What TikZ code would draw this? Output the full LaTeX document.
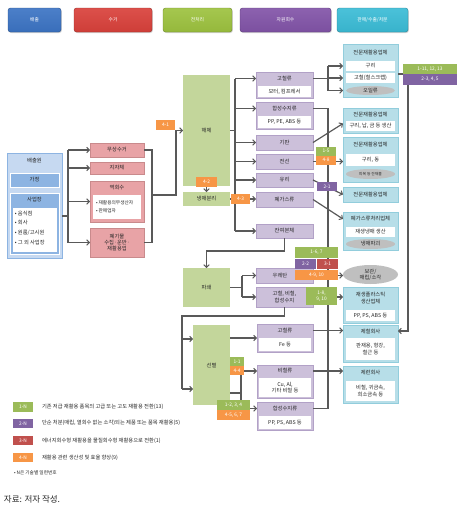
\documentclass[tikz,border=0pt]{standalone}
\usepackage{fontspec}
\setmainfont{Noto Sans CJK KR}
\usetikzlibrary{arrows.meta,shapes.geometric,shadows}
\definecolor{lnc}{HTML}{595959}
\definecolor{srcO}{HTML}{C6D9F1}
\definecolor{srcB}{HTML}{8DB4E2}
\definecolor{redF}{HTML}{E8A3A6}
\definecolor{redD}{HTML}{C98A8C}
\definecolor{grnF}{HTML}{C3D69B}
\definecolor{purF}{HTML}{CCC0DA}
\definecolor{purD}{HTML}{B2A1C7}
\definecolor{cyF}{HTML}{B7DEE8}
\definecolor{cyD}{HTML}{92CDDC}
\definecolor{grE}{HTML}{BFBFBF}
\definecolor{tG}{HTML}{9BBB59}
\definecolor{tP}{HTML}{8064A2}
\definecolor{tR}{HTML}{C0504D}
\definecolor{tO}{HTML}{F79646}
\definecolor{bB}{HTML}{3C74C4}
\definecolor{bR}{HTML}{D9413B}
\definecolor{bG}{HTML}{9DC23F}
\definecolor{bP}{HTML}{8254A8}
\definecolor{bC}{HTML}{3BBCD6}
\newcommand\bx[7]{\node[#2, minimum width={(#5-#3)*1pt}, minimum height={(#6-#4)*1pt}] (#1) at ({(#3+#5)/2},{(#4+#6)/2}) {#7};}
\tikzset{
 base/.style={inner sep=0pt, outer sep=0pt, align=center, font=\fontsize{5.3}{6.3}\selectfont, text=black!85},
 btn/.style={base, rounded corners=2.5pt, text=white, font=\fontsize{4.8}{5.5}\selectfont, line width=0.4pt,
   drop shadow={opacity=0.35, shadow xshift=0.8pt, shadow yshift=-1pt}},
 btnB/.style={btn, top color=bB!92!white, bottom color=bB!95!black, draw=bB!70!black},
 btnR/.style={btn, top color=bR!92!white, bottom color=bR!95!black, draw=bR!70!black},
 btnG/.style={btn, top color=bG!92!white, bottom color=bG!95!black, draw=bG!70!black},
 btnP/.style={btn, top color=bP!92!white, bottom color=bP!95!black, draw=bP!70!black},
 btnC/.style={btn, top color=bC!92!white, bottom color=bC!95!black, draw=bC!70!black},
 srco/.style={base, fill=srcO, draw=srcB, line width=0.6pt},
 srcb/.style={base, fill=srcB, draw=white, line width=0.5pt},
 wsub/.style={base, fill=white},
 redb/.style={base, fill=redF, draw=redD, line width=0.5pt},
 grnb/.style={base, fill=grnF},
 purb/.style={base, fill=purF, draw=purD, line width=0.4pt},
 cyb/.style={base, fill=cyF, draw=cyD, line width=0.5pt},
 hdr/.style={base},
 gell/.style={base, ellipse, fill=grE},
 tag/.style={base, text=white, font=\fontsize{4.8}{5.6}\selectfont},
 tagG/.style={tag, fill=tG}, tagP/.style={tag, fill=tP}, tagR/.style={tag, fill=tR}, tagO/.style={tag, fill=tO},
 ln/.style={draw=lnc, line width=1.2pt},
 arr/.style={ln, -{Straight Barb[length=2.6pt,width=5.5pt,line width=1pt]}},
}
\begin{document}
\begin{tikzpicture}[x=1pt,y=-1pt]
\useasboundingbox (0,0) rectangle (468,512);
% top legend buttons
\bx{b1}{btnB}{8}{8}{61}{32}{배출}
\bx{b2}{btnR}{74}{8}{152}{32}{수거}
\bx{b3}{btnG}{163}{8}{232}{32}{전처리}
\bx{b4}{btnP}{240}{8}{331}{32}{자원회수}
\bx{b5}{btnC}{337}{8}{408}{32}{판매/수출/처분}
% source
\bx{src}{srco}{7}{153}{62}{258}{}
\node[base] (srct) at (34.5,160) {배출원};
\bx{home}{srcb}{10}{173}{59}{187}{가정}
\bx{biz}{srcb}{10}{193}{59}{254}{}
\node[base] (bizt) at (34.5,200) {사업장};
\bx{bizl}{wsub}{12.5}{208}{56.5}{251.5}{}
\node[base, align=left, anchor=north west, font=\fontsize{5.3}{9.6}\selectfont] (bizlt) at (15,211) {• 음식점\\• 회사\\• 원룸/고시원\\• 그 외 사업장};
% collection
\bx{c1}{redb}{90}{143}{144}{157}{무상수거}
\bx{c2}{redb}{90}{162}{144}{174}{지자체}
\bx{c3}{redb}{90}{181}{144}{222}{}
\node[base] (c3t) at (117,187.5) {역회수};
\bx{c3l}{wsub}{93}{195}{141}{219}{}
\node[base, align=left, anchor=west, font=\fontsize{4.7}{8}\selectfont] (c3lt) at (96,207) {• 재활용의무생산자\\• 판매업자};
\bx{c4}{redb}{90}{228}{144}{257}{폐기물\\수집·운반·\\재활용업}
% green boxes
\bx{g1}{grnb}{183}{75}{230}{186}{해체}
\bx{g2}{grnb}{183}{192}{230}{206}{냉매분리}
\bx{g3}{grnb}{183}{268}{230}{307}{파쇄}
\bx{g4}{grnb}{193}{325}{230}{405}{선별}
% purple boxes
\bx{p1}{purb}{256}{72}{313}{98}{}
\bx{p1h}{hdr}{256}{72}{313}{85}{고철류}
\bx{p1s}{wsub}{258}{86}{311}{97}{모터, 컴프레서}
\bx{p2}{purb}{256}{102}{313}{129}{}
\bx{p2h}{hdr}{256}{102}{313}{115}{합성수지류}
\bx{p2s}{wsub}{258}{116}{311}{128}{PP, PE, ABS 등}
\bx{p3}{purb}{256}{135}{313}{150}{기판}
\bx{p4}{purb}{256}{154}{313}{169}{전선}
\bx{p5}{purb}{256}{173}{313}{187}{유리}
\bx{p6}{purb}{256}{192}{313}{207}{폐가스류}
\bx{p7}{purb}{256}{224}{313}{238}{잔여본체}
\bx{p8}{purb}{256}{268}{313}{283}{\hspace*{-9pt}우레탄}
\bx{p9}{purb}{256}{287}{313}{307}{고철, 비철,\\합성수지}
\bx{p10}{purb}{257}{324}{313}{352}{}
\bx{p10h}{hdr}{257}{324}{313}{337}{고철류}
\bx{p10s}{wsub}{259}{338}{311}{351}{Fe 등}
\bx{p11}{purb}{257}{365}{313}{398}{}
\bx{p11h}{hdr}{257}{365}{313}{377}{비철류}
\bx{p11s}{wsub}{259}{378}{311}{397}{Cu, Al,\\기타 비철 등}
\bx{p12}{purb}{257}{402}{313}{430}{}
\bx{p12h}{hdr}{257}{402}{313}{415}{합성수지류}
\bx{p12s}{wsub}{259}{416}{311}{429}{PP, PS, ABS 등}
% cyan boxes
\bx{A}{cyb}{343}{44}{398}{97}{}
\bx{Ah}{hdr}{343}{44}{398}{60}{전문재활용업체}
\bx{As1}{wsub}{346}{61}{395}{71}{구리}
\bx{As2}{wsub}{346}{73}{395}{83}{고철(철스크랩)}
\bx{As3}{gell}{346}{86}{395}{95}{오일류}
\bx{B}{cyb}{343}{108}{398}{133}{}
\bx{Bh}{hdr}{343}{108}{398}{120}{전문재활용업체}
\bx{Bs}{wsub}{346}{121}{395}{131}{구리, 납, 금 등 생산}
\bx{C}{cyb}{343}{137}{398}{182}{}
\bx{Ch}{hdr}{343}{137}{398}{152}{전문재활용업체}
\bx{Cs}{wsub}{346}{154}{395}{166}{구리, 동}
\node[gell, minimum width=49pt, minimum height=10pt, font=\fontsize{3.8}{4.5}\selectfont] (Ce) at (370.5,174) {피복 등 잔재물};
\bx{D}{cyb}{343}{187}{398}{202}{전문재활용업체}
\bx{E}{cyb}{343}{212}{398}{250}{}
\bx{Eh}{hdr}{343}{212}{398}{226}{폐가스류처리업체}
\bx{Es}{wsub}{346}{227}{395}{237}{재생냉매 생산}
\bx{Ee}{gell}{346}{239}{395}{249}{냉매파괴}
\bx{e3}{gell}{343}{265}{398}{284}{보관/\\매립/소각}
\bx{F}{cyb}{343}{287}{398}{323}{}
\bx{Fh}{hdr}{343}{287}{398}{309}{재생플라스틱\\생산업체}
\bx{Fs}{wsub}{346}{310}{395}{321}{PP, PS, ABS 등}
\bx{G}{cyb}{343}{325}{398}{362}{}
\bx{Gh}{hdr}{343}{325}{398}{337}{제철회사}
\bx{Gs}{wsub}{346}{338}{395}{360}{판재용, 형강,\\철근 등}
\bx{H}{cyb}{343}{366}{398}{403}{}
\bx{Hh}{hdr}{343}{366}{398}{380}{제련회사}
\bx{Hs}{wsub}{346}{381}{395}{401}{비철, 귀금속,\\희소금속 등}
% ---- connectors
\coordinate (s0) at (68,216);
\draw[ln] (s0 -| src.east) -- (s0);
\draw[ln] (c1.west -| s0) -- (c4.west -| s0);
\foreach \n in {c1,c2,c3,c4} \draw[arr] (\n.west -| s0) -- (\n.west);
\coordinate (m1) at (152,195);
\coordinate (m2) at (176,195);
\draw[ln] (c1.east) -| (m1);
\draw[ln] (c4.east) -| (m1);
\draw[arr] (m1) -- (m2) |- (g1.west);
% dismantling trunk
\coordinate (h0) at (235,130);
\draw[ln] (g1.east) -- (g1.east -| h0);
\draw[ln] (p1h.west -| h0) -- (p7.west -| h0);
\foreach \n in {p1h,p2h,p3,p4,p5,p7} \draw[arr] (\n.west -| h0) -- (\n.west);
\draw[arr] (g2.east) -- (g2.east -| p6.west);
% residue to shredding
\coordinate (r1) at (206.5,251);
\draw[arr] (p7.south) |- (r1) -- (g3.north);
\coordinate (k0) at (242,287);
\draw[ln] (g3.east) -- (g3.east -| k0);
\draw[ln] (p8.west -| k0) -- (p9.west -| k0);
\foreach \n in {p8,p9} \draw[arr] (\n.west -| k0) -- (\n.west);
% to sorting
\coordinate (q1) at (182,316);
\coordinate (q2) at (182,389);
\coordinate (q3) at (182,339);
\draw[ln] (p9.south) |- (q1) -- (q2);
\draw[arr] (q3) -- (q3 -| g4.west);
\draw[arr] (q2) -- (q2 -| g4.west);
\draw[arr] (g4.east |- p10.west) -- (p10.west);
\draw[arr] (g4.east |- p11h.west) -- (p11h.west);
\coordinate (v0) at (241,393);
\draw[ln] (v0 -| g4.east) -- (v0) -- (v0 |- p11h.west);
\draw[arr] (v0) -- (v0 |- p12h.west) -- (p12h.west);
% to recyclers
\coordinate (f0) at (328,78);
\draw[ln] (p1h.east) -- (p1h.east -| f0);
\draw[ln] (As1 -| f0) -- (As3 -| f0);
\foreach \n in {As1,As2,As3} \draw[arr] (\n -| f0) -- (\n -| A.west);
\draw[ln] (p2h.east) -- (p2h.east -| f0) -- (p12h.east -| f0) -- (p12h.east);
\draw[arr] (p3.east) -- ([yshift=-3pt]B.west);
\draw[arr] (p4.east) -- (p4.east -| C.west);
\draw[arr] (p5.east) -- (D.west);
\draw[arr] (p6.east) -- (Eh.west);
\draw[arr] (p8.east) -- (p8.east -| e3.west);
\draw[arr] (p9.east) -- (p9.east -| F.west);
\draw[arr] (p10h.east) -- (p10h.east -| G.west);
\draw[arr] (p11h.east) -- (p11h.east -| H.west);
\coordinate (rr) at (408,74);
\draw[arr] (rr -| A.east) -- (rr) -- (rr |- Gh.east) -- (Gh.east);
% ---- tags
\bx{t41}{tagO}{156}{120}{175}{130}{4-1}
\bx{t42}{tagO}{196}{177}{217}{187}{4-2}
\draw[arr] (t42.south) -- (g2.north);
\bx{t43}{tagO}{231}{194}{250}{204}{4-3}
\bx{t11113}{tagG}{403}{64}{457}{74}{1-11, 12, 13}
\bx{t2345}{tagP}{403}{74}{457}{85}{2-3, 4, 5}
\bx{t15}{tagG}{316}{147}{336}{155.5}{1-5}
\bx{t48}{tagO}{316}{155.5}{336}{165}{4-8}
\bx{t21}{tagP}{317}{182}{337}{191}{2-1}
\bx{t167}{tagG}{295}{247}{338}{258}{1-6, 7}
\bx{t22}{tagP}{295}{258.5}{316}{269}{2-2}
\bx{t31}{tagR}{317}{258.5}{338}{269}{3-1}
\bx{t4910}{tagO}{295}{270}{338}{280}{4-9, 10}
\bx{t1810}{tagG}{306}{287}{337}{305}{1-8,\\9, 10}
\bx{t11}{tagG}{230}{357}{244}{366}{1-1}
\bx{t44}{tagO}{230}{366}{244}{375}{4-4}
\bx{t1234}{tagG}{217}{400}{250}{410}{1-2, 3, 4}
\bx{t4567}{tagO}{217}{410}{250}{420}{4-5, 6, 7}
% ---- legend
\bx{L1}{tagG}{13}{402}{33}{412}{1-N}
\bx{L2}{tagP}{13}{418.5}{33}{428}{2-N}
\bx{L3}{tagR}{13}{436}{33}{445}{3-N}
\bx{L4}{tagO}{13}{453}{33}{462}{4-N}
\node[base, anchor=west] (L1t) at (42,407) {기존 저급 재활용 품목의 고급 또는 고도 재활용 전환(13)};
\node[base, anchor=west] (L2t) at (42,423) {단순 처분(매립, 열회수 없는 소각)되는 제품 또는 품목 재활용(5)};
\node[base, anchor=west] (L3t) at (42,440.5) {에너지회수형 재활용을 물질회수형 재활용으로 전환(1)};
\node[base, anchor=west] (L4t) at (42,457.5) {재활용 관련 생산성 및 효율 향상(9)};
\node[base, anchor=west, font=\fontsize{4.7}{5.5}\selectfont] (Nn) at (14,473) {• N은 기술별 일련번호};
\node[base, anchor=west, font=\fontsize{8.5}{10}\selectfont] (src2) at (4,499) {자료: 저자 작성.};
\end{tikzpicture}
\end{document}
